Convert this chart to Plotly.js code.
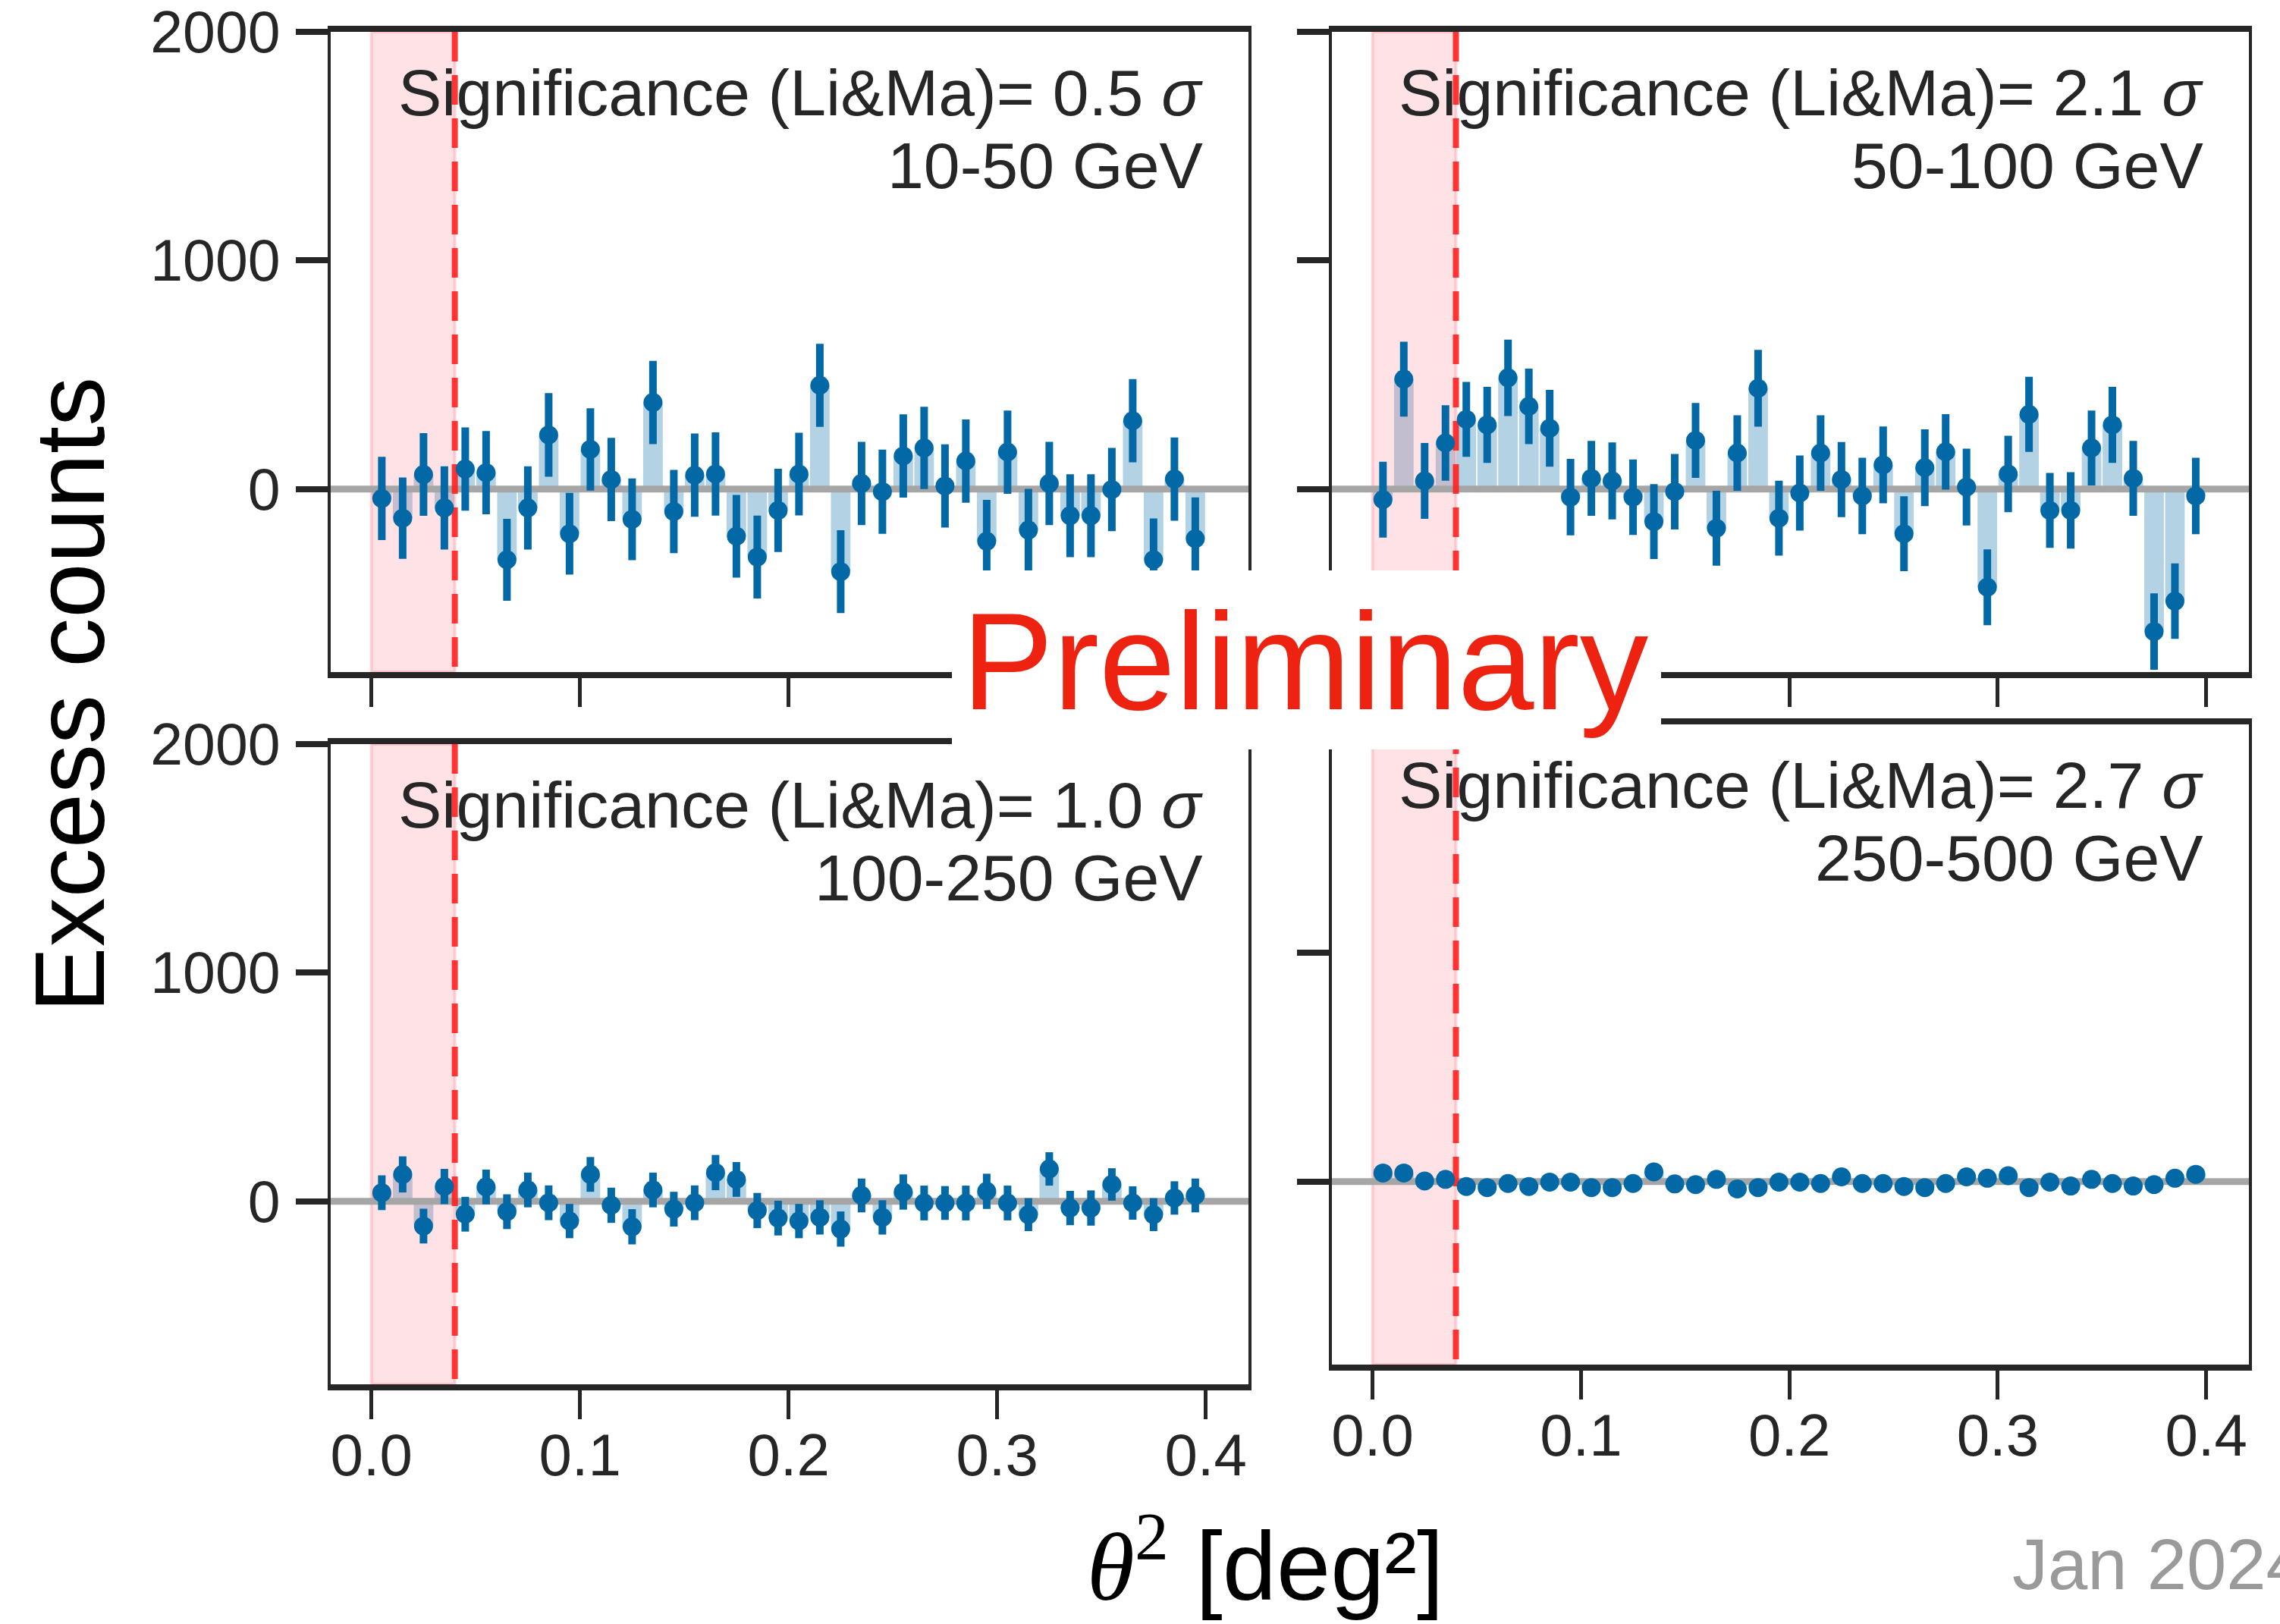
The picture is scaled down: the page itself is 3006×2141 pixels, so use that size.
<!DOCTYPE html>
<html><head><meta charset="utf-8">
<script src="https://cdn.plot.ly/plotly-3.0.1.min.js"></script>
<style>html,body{margin:0;padding:0;background:#fff;} #chart{width:3006px;height:2141px;}</style>
</head><body><div id="chart"></div>
<script>
// ---------------- data ----------------
const THETA2_BINS = [0.005,0.015,0.025,0.035,0.045,0.055,0.065,0.075,0.085,0.095,
  0.105,0.115,0.125,0.135,0.145,0.155,0.165,0.175,0.185,0.195,
  0.205,0.215,0.225,0.235,0.245,0.255,0.265,0.275,0.285,0.295,
  0.305,0.315,0.325,0.335,0.345,0.355,0.365,0.375,0.385,0.395];

const EXCESS_10_50 = [-41,-127,64,-82,88,72,-309,-82,237,-195,174,42,-132,379,-98,61,66,-206,-297,-93,
  66,454,-361,25,-11,145,180,14,123,-228,162,-179,25,-116,-116,-2,299,-309,44,-217];
const ERR_10_50 = [182,178,181,182,182,182,179,182,183,179,180,182,179,182,182,182,182,181,181,182,
  181,182,181,182,184,182,180,182,182,181,182,180,182,181,181,182,182,181,182,181];

const EXCESS_50_100 = [-46,481,36,202,305,281,487,362,266,-35,47,36,-35,-142,-11,213,-171,158,441,-127,
  -17,158,42,-30,106,-195,94,163,9,-429,66,327,-93,-93,180,281,47,-623,-490,-30];
const ERR_50_100 = [166,164,166,165,164,166,167,165,168,167,164,168,165,164,165,164,164,165,168,164,
  164,165,164,167,168,164,168,165,168,166,167,164,164,167,164,166,164,167,165,167];

const EXCESS_100_250 = [38,118,-108,65,-56,63,-45,50,-6,-86,118,-17,-111,50,-34,-6,126,96,-40,-73,
  -86,-70,-121,26,-70,41,-7,-7,-7,44,-7,-58,142,-29,-29,74,-7,-58,15,26];
const ERR_100_250 = [76,79,76,77,76,76,76,76,76,75,76,77,77,76,76,76,77,76,77,76,
  75,75,77,74,75,77,76,74,76,77,76,72,73,75,77,71,73,72,73,74];

const EXCESS_250_500 = [38,38,3,10,-21,-26,-8,-21,-2,-2,-26,-26,-8,43,-10,-13,10,-32,-26,-2,
  -2,-8,21,-8,-8,-21,-26,-8,21,15,26,-26,-2,-19,10,-8,-19,-13,15,32];
const ERR_250_500 = [12,12,12,12,12,12,12,12,12,12,12,12,12,12,12,12,12,12,12,12,
  12,12,12,12,12,12,12,12,12,12,12,12,12,12,12,12,12,12,12,12];

const SIGNIFICANCES = ['0.5','2.1','1.0','2.7'];
const ENERGY_BANDS = ['10-50 GeV','50-100 GeV','100-250 GeV','250-500 GeV'];
const SIGNAL_REGION = [0, 0.04];
const X_RANGE = [-0.0195, 0.4205];
const Y_RANGE = [-800, 2000];
const X_TICKS = [0, 0.1, 0.2, 0.3, 0.4];
const X_TICK_LABELS = ['0.0','0.1','0.2','0.3','0.4'];
const Y_TICKS = [0, 1000, 2000];
const Y_TICK_LABELS = ['0','1000','2000'];

// ---------------- layout geometry ----------------
const W = 3006, H = 2141;
const FONT = 'Liberation Sans, Arial, Helvetica, sans-serif';
const INK = '#262626';
const px = v => v / W;
const py = v => 1 - v / H;
// panel boxes in pixels: [left, right, top, bottom]
const BOXES = [
  [436, 1646, 42, 886],
  [1756, 2965, 42, 886],
  [436, 1646, 981, 1825],
  [1756, 2965, 955, 1799]
];
const SERIES = [
  [EXCESS_10_50, ERR_10_50],
  [EXCESS_50_100, ERR_50_100],
  [EXCESS_100_250, ERR_100_250],
  [EXCESS_250_500, ERR_250_500]
];

const traces = [];
const layout = {
  width: W, height: H,
  margin: {l:0, r:0, t:0, b:0, pad:0},
  paper_bgcolor: '#fff', plot_bgcolor: 'rgba(0,0,0,0)',
  showlegend: false,
  font: {family: FONT, color: INK},
  annotations: [], shapes: []
};

BOXES.forEach((b, i) => {
  const s = i === 0 ? '' : String(i + 1);
  const xa = 'x' + s, ya = 'y' + s;
  const [ex, er] = SERIES[i];
  const bottomRow = i >= 2, leftCol = (i % 2) === 0;

  traces.push({type:'bar', x: THETA2_BINS, y: ex, width: 0.0094, xaxis: xa, yaxis: ya,
    marker: {color: '#b3d3e5', line: {width: 0}}, hoverinfo: 'skip'});
  traces.push({type:'scatter', mode:'lines', xaxis: xa, yaxis: ya, hoverinfo:'skip',
    x: [SIGNAL_REGION[0], SIGNAL_REGION[1], SIGNAL_REGION[1], SIGNAL_REGION[0], SIGNAL_REGION[0]],
    y: [Y_RANGE[0], Y_RANGE[0], Y_RANGE[1], Y_RANGE[1], Y_RANGE[0]],
    fill: 'toself', fillcolor: 'rgba(255,110,125,0.2)',
    line: {color: 'rgba(255,120,135,0.3)', width: 4}});
  traces.push({type:'scatter', mode:'lines', xaxis: xa, yaxis: ya, hoverinfo:'skip',
    x: X_RANGE, y: [0, 0], line: {color: '#a6a6a6', width: 9}});
  traces.push({type:'scatter', mode:'lines', xaxis: xa, yaxis: ya, hoverinfo:'skip',
    x: [SIGNAL_REGION[1], SIGNAL_REGION[1]], y: [Y_RANGE[1], Y_RANGE[0]],
    line: {color: 'rgba(255,28,28,0.88)', width: 8, dash: '39px,18px'}});
  traces.push({type:'scatter', mode:'markers', xaxis: xa, yaxis: ya, x: THETA2_BINS, y: ex,
    marker: {color: '#0369a6', size: 25},
    error_y: {type:'data', array: er, visible: true, thickness: 10, width: 0, color: '#0369a6'}});

  layout['xaxis' + s] = {
    domain: [px(b[0]), px(b[1])], range: X_RANGE, anchor: ya,
    showline: true, linewidth: 8, linecolor: INK, mirror: true,
    ticks: 'outside', ticklen: 38, tickwidth: 5, tickcolor: INK,
    tickmode: 'array', tickvals: X_TICKS, ticktext: X_TICK_LABELS,
    showticklabels: bottomRow, tickfont: {size: 78, color: INK, family: FONT},
    ticklabelstandoff: -20, ticklabeloverflow: 'allow',
    showgrid: false, zeroline: false, fixedrange: true
  };
  layout['yaxis' + s] = {
    domain: [py(b[3]), py(b[2])], range: Y_RANGE, anchor: xa,
    showline: true, linewidth: 4, linecolor: INK, mirror: true,
    ticks: 'outside', ticklen: 42, tickwidth: 8, tickcolor: INK,
    tickmode: 'array', tickvals: Y_TICKS, ticktext: Y_TICK_LABELS,
    showticklabels: leftCol, tickfont: {size: 77, color: INK, family: FONT},
    ticklabelstandoff: 5, ticklabeloverflow: 'allow',
    showgrid: false, zeroline: false, fixedrange: true
  };

  const right = b[1] - 58;
  layout.annotations.push({xref:'paper', yref:'paper', x: px(right), y: py(b[2] + 80),
    xanchor:'right', yanchor:'middle', showarrow:false,
    text: 'Significance (Li&amp;Ma)= ' + SIGNIFICANCES[i] + ' <i>σ</i>',
    font: {size: 86, color: INK, family: FONT}});
  layout.annotations.push({xref:'paper', yref:'paper', x: px(right), y: py(b[2] + 176),
    xanchor:'right', yanchor:'middle', showarrow:false,
    text: ENERGY_BANDS[i], font: {size: 86, color: INK, family: FONT}});
});

// white box behind "Preliminary"
layout.shapes.push({type:'rect', xref:'paper', yref:'paper', layer:'above',
  x0: px(1255), x1: px(2190), y0: py(988), y1: py(752),
  fillcolor: '#ffffff', line: {width: 0}});

layout.annotations.push({xref:'paper', yref:'paper', x: px(1266), y: py(872),
  xanchor:'left', yanchor:'middle', showarrow:false, text:'Preliminary',
  font: {size: 181, color: '#ee2211', family: FONT}});
layout.annotations.push({xref:'paper', yref:'paper', x: px(92), y: py(916),
  xanchor:'center', yanchor:'middle', showarrow:false, textangle: -90, text:'Excess counts',
  font: {size: 130, color: '#000', family: FONT}});
layout.annotations.push({xref:'paper', yref:'paper', x: px(1668), y: py(2056),
  xanchor:'center', yanchor:'middle', showarrow:false,
  text: '<span style="font-family:Liberation Serif, DejaVu Serif, serif"><i>θ</i><sup>2</sup></span> [deg²]',
  font: {size: 128, color: '#000', family: FONT}});
layout.annotations.push({xref:'paper', yref:'paper', x: px(2651), y: py(2062),
  xanchor:'left', yanchor:'middle', showarrow:false, text:'Jan 2024',
  font: {size: 94, color: '#9a9a9a', family: FONT}});

Plotly.newPlot('chart', traces, layout, {staticPlot: true, displayModeBar: false});
</script>
</body></html>
